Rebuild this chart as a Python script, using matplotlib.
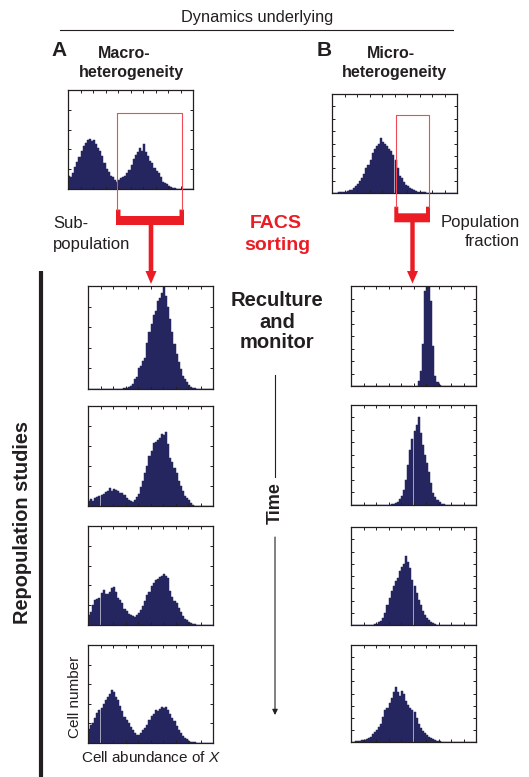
import matplotlib
matplotlib.use('Agg')
import matplotlib.pyplot as plt
from matplotlib.patches import Polygon
import numpy as np

plt.rcParams['font.family'] = ['Liberation Sans', 'DejaVu Sans']
plt.rcParams['mathtext.fontset'] = 'custom'
plt.rcParams['mathtext.it'] = 'Liberation Sans:italic'

W, H = 529, 777
NAVY = '#25255f'
RED = '#ec1c24'
PINK = '#ef4a55'
INK = '#231f20'

# histogram bins over the abundance axis (0..100), 60 bins
n_bins = 60

# bar heights as fraction of panel height
macro_start = [0.13, 0.12, 0.16, 0.22, 0.27, 0.32, 0.38, 0.43, 0.46, 0.49,
               0.51, 0.48, 0.50, 0.45, 0.41, 0.38, 0.33, 0.26, 0.20, 0.17,
               0.13, 0.12, 0.09, 0.07, 0.09, 0.11, 0.12, 0.13, 0.16, 0.19,
               0.24, 0.30, 0.34, 0.37, 0.41, 0.38, 0.455, 0.37, 0.33, 0.28,
               0.26, 0.21, 0.18, 0.16, 0.12, 0.07, 0.06, 0.05, 0.03, 0.02,
               0.015, 0.01, 0.005, 0, 0, 0, 0, 0, 0, 0]
micro_start = [0, 0.003, 0.005, 0.008, 0.01, 0.012, 0.015, 0.02, 0.03, 0.035,
               0.05, 0.07, 0.09, 0.12, 0.15, 0.19, 0.25, 0.28, 0.33, 0.40,
               0.44, 0.47, 0.50, 0.56, 0.52, 0.50, 0.47, 0.44, 0.42, 0.38,
               0.33, 0.25, 0.17, 0.15, 0.11, 0.08, 0.07, 0.05, 0.04, 0.03,
               0.02, 0.015, 0.01, 0.008, 0.006, 0.005, 0.003, 0.002, 0.002, 0.001,
               0, 0, 0, 0, 0, 0, 0, 0, 0, 0]

macro_time = [
    [0, 0, 0, 0, 0, 0, 0, 0, 0, 0,
     0, 0, 0, 0, 0, 0, 0.003, 0.005, 0.01, 0.015,
     0.03, 0.05, 0.10, 0.12, 0.20, 0.22, 0.27, 0.30, 0.45, 0.55,
     0.63, 0.72, 0.76, 0.85, 0.88, 0.93, 1.0, 0.90, 0.80, 0.68,
     0.55, 0.44, 0.34, 0.26, 0.19, 0.13, 0.10, 0.07, 0.04, 0.02,
     0.01, 0.005, 0, 0, 0, 0, 0, 0, 0, 0],
    [0.05, 0.07, 0.05, 0.08, 0.09, 0.10, 0.11, 0.12, 0.14, 0.15,
     0.18, 0.15, 0.17, 0.16, 0.15, 0.13, 0.13, 0.11, 0.08, 0.06,
     0.05, 0.04, 0.06, 0.09, 0.12, 0.19, 0.25, 0.33, 0.40, 0.50,
     0.55, 0.63, 0.64, 0.66, 0.68, 0.72, 0.71, 0.74, 0.62, 0.48,
     0.44, 0.38, 0.33, 0.25, 0.20, 0.15, 0.10, 0.08, 0.06, 0.03,
     0.01, 0.005, 0, 0, 0, 0, 0, 0, 0, 0],
    [0.10, 0.13, 0.20, 0.25, 0.26, 0.27, 0.32, 0.35, 0.31, 0.31,
     0.33, 0.37, 0.38, 0.33, 0.27, 0.25, 0.22, 0.16, 0.14, 0.11,
     0.10, 0.09, 0.08, 0.10, 0.12, 0.15, 0.19, 0.24, 0.30, 0.33,
     0.39, 0.42, 0.45, 0.46, 0.48, 0.49, 0.52, 0.50, 0.47, 0.34,
     0.28, 0.24, 0.22, 0.17, 0.13, 0.09, 0.06, 0.05, 0.03, 0.02,
     0.01, 0.01, 0.005, 0.003, 0, 0, 0, 0, 0, 0],
    [0.14, 0.18, 0.20, 0.26, 0.31, 0.34, 0.36, 0.40, 0.44, 0.47,
     0.50, 0.54, 0.52, 0.47, 0.44, 0.38, 0.33, 0.27, 0.23, 0.20,
     0.16, 0.13, 0.10, 0.08, 0.08, 0.10, 0.13, 0.15, 0.18, 0.23,
     0.28, 0.30, 0.34, 0.33, 0.35, 0.37, 0.36, 0.37, 0.34, 0.30,
     0.26, 0.22, 0.17, 0.13, 0.10, 0.07, 0.05, 0.04, 0.025, 0.015,
     0.01, 0.008, 0.005, 0.003, 0.002, 0, 0, 0, 0, 0],
]
micro_time = [
    [0, 0, 0, 0, 0, 0, 0, 0, 0, 0,
     0, 0, 0, 0, 0, 0, 0, 0, 0, 0,
     0, 0, 0, 0, 0, 0, 0, 0, 0, 0,
     0, 0.005, 0.05, 0.15, 0.42, 0.95, 1.0, 1.0, 0.85, 0.40,
     0.10, 0.04, 0.01, 0, 0, 0, 0, 0, 0, 0,
     0, 0, 0, 0, 0, 0, 0, 0, 0, 0],
    [0, 0, 0, 0, 0, 0, 0, 0, 0, 0,
     0, 0, 0, 0, 0, 0, 0, 0, 0, 0.005,
     0.01, 0.02, 0.03, 0.06, 0.09, 0.15, 0.25, 0.40, 0.55, 0.66,
     0.74, 0.80, 0.88, 0.72, 0.60, 0.50, 0.42, 0.33, 0.22, 0.12,
     0.08, 0.05, 0.03, 0.01, 0.005, 0, 0, 0, 0, 0,
     0, 0, 0, 0, 0, 0, 0, 0, 0, 0],
    [0, 0, 0, 0, 0, 0, 0, 0, 0, 0.003,
     0.005, 0.01, 0.015, 0.03, 0.04, 0.07, 0.12, 0.20, 0.28, 0.35,
     0.40, 0.45, 0.48, 0.55, 0.59, 0.62, 0.70, 0.64, 0.58, 0.46,
     0.40, 0.33, 0.26, 0.20, 0.14, 0.10, 0.07, 0.05, 0.03, 0.02,
     0.01, 0.005, 0, 0, 0, 0, 0, 0, 0, 0,
     0, 0, 0, 0, 0, 0, 0, 0, 0, 0],
    [0, 0.003, 0.008, 0.01, 0.015, 0.02, 0.025, 0.03, 0.04, 0.05,
     0.08, 0.10, 0.12, 0.15, 0.19, 0.26, 0.33, 0.35, 0.40, 0.45,
     0.52, 0.57, 0.52, 0.47, 0.53, 0.50, 0.42, 0.38, 0.35, 0.33,
     0.31, 0.25, 0.19, 0.14, 0.11, 0.09, 0.07, 0.05, 0.04, 0.03,
     0.02, 0.015, 0.01, 0.005, 0.003, 0, 0, 0, 0, 0,
     0, 0, 0, 0, 0, 0, 0, 0, 0, 0],
]

centers = (np.arange(n_bins) + 0.5) * 100 / n_bins


def px_axes(fig, left, top, right, bottom):
    return fig.add_axes([left / W, 1 - bottom / H, (right - left) / W, (bottom - top) / H])


def draw_hist(ax, counts, ystep):
    ax.bar(centers, counts, width=100 / n_bins, color=NAVY,
           edgecolor=NAVY, linewidth=0.35)
    ax.set_xlim(0, 100)
    ax.set_ylim(0, 1)
    ax.set_xticks(np.arange(10, 100, 10))
    ax.set_yticks(np.arange(ystep, 1 - 1e-6, ystep))
    ax.tick_params(direction='in', length=2.2, width=0.7, color=INK,
                   top=True, right=True, labelbottom=False, labelleft=False)
    for s in ax.spines.values():
        s.set_linewidth(0.9)
        s.set_color(INK)


fig = plt.figure(figsize=(W / 100, H / 100), dpi=100)

draw_hist(px_axes(fig, 68, 90, 193, 189), macro_start, 0.2)
draw_hist(px_axes(fig, 332, 94, 457, 193), micro_start, 0.125)

left_rows = [(286, 389), (406, 506), (526, 625), (645, 743)]
right_rows = [(286, 386), (405, 505), (527, 625), (645, 742)]
for (t, b), counts in zip(left_rows, macro_time):
    draw_hist(px_axes(fig, 88, t, 213, b), counts, 0.2)
for (t, b), counts in zip(right_rows, micro_time):
    draw_hist(px_axes(fig, 351, t, 476, b), counts, 0.125)

# overlay in pixel coordinates for labels and arrows
ov = fig.add_axes([0, 0, 1, 1], zorder=5)
ov.set_xlim(0, W)
ov.set_ylim(H, 0)
ov.axis('off')

ov.text(257, 17.5, 'Dynamics underlying', ha='center', va='center', fontsize=11.8, color=INK)
ov.plot([60, 453], [29.7, 29.7], color=INK, lw=0.8)

ov.text(59, 50, 'A', ha='center', va='center', fontsize=15, fontweight='bold', color=INK)
ov.text(124, 53, 'Macro-', ha='center', va='center', fontsize=11.5, fontweight='bold', color=INK)
ov.text(131, 72, 'heterogeneity', ha='center', va='center', fontsize=11.5, fontweight='bold', color=INK)
ov.text(324, 50, 'B', ha='center', va='center', fontsize=15, fontweight='bold', color=INK)
ov.text(391, 53, 'Micro-', ha='center', va='center', fontsize=11.5, fontweight='bold', color=INK)
ov.text(394.5, 72, 'heterogeneity', ha='center', va='center', fontsize=11.5, fontweight='bold', color=INK)

ov.text(53, 224, 'Sub-', ha='left', va='center', fontsize=12, color=INK)
ov.text(53, 244, 'population', ha='left', va='center', fontsize=12, color=INK)
ov.text(276, 224, 'FACS', ha='center', va='center', fontsize=14, fontweight='bold', color=RED)
ov.text(277, 246, 'sorting', ha='center', va='center', fontsize=14, fontweight='bold', color=RED)
ov.text(520, 223, 'Population', ha='right', va='center', fontsize=12, color=INK)
ov.text(520, 242, 'fraction', ha='right', va='center', fontsize=12, color=INK)

# sorting gates and red arrows
ov.plot([117.3, 117.3, 181.5, 181.5], [210, 112.6, 112.6, 210], color=PINK, lw=0.8)
ov.plot([395.7, 395.7, 428.7, 428.7], [207, 115, 115, 207], color=PINK, lw=0.8)
gate_a = [(116, 209.6), (120.5, 209.6), (120.5, 216), (179.5, 216), (179.5, 209.6),
          (184, 209.6), (184, 225), (153.3, 225), (153.3, 271), (156.5, 271),
          (151, 284), (145.5, 271), (148.7, 271), (148.7, 225), (116, 225)]
gate_b = [(394.3, 206.7), (398.3, 206.7), (398.3, 213.3), (426, 213.3), (426, 206.7),
          (430, 206.7), (430, 222.3), (414.7, 222.3), (414.7, 271), (418, 271),
          (412.5, 283.5), (407, 271), (410.3, 271), (410.3, 222.3), (394.3, 222.3)]
for pts in (gate_a, gate_b):
    ov.add_patch(Polygon(pts, closed=True, facecolor=RED, edgecolor='none'))

ov.text(277, 300, 'Reculture', ha='center', va='center', fontsize=14.5, fontweight='bold', color=INK)
ov.text(277, 322, 'and', ha='center', va='center', fontsize=14.5, fontweight='bold', color=INK)
ov.text(277, 343, 'monitor', ha='center', va='center', fontsize=14.5, fontweight='bold', color=INK)

ov.plot([275, 275], [375, 477], color=INK, lw=0.8)
ov.text(275, 503, 'Time', ha='center', va='center', rotation=90, fontsize=13,
        fontweight='bold', color=INK)
ov.annotate('', xy=(275, 715), xytext=(275, 537),
            arrowprops=dict(arrowstyle='-|>', lw=0.8, color=INK, mutation_scale=8,
                            shrinkA=0, shrinkB=0))

ov.plot([40.7, 40.7], [271, 777], color=INK, lw=3, solid_capstyle='butt', clip_on=False)
ov.text(23, 522, 'Repopulation studies', ha='center', va='center', rotation=90,
        fontsize=14.4, fontweight='bold', color=INK)

ov.text(75, 697, 'Cell number', ha='center', va='center', rotation=90, fontsize=11, color=INK)
ov.text(81, 757, 'Cell abundance of $\\mathit{X}$', ha='left', va='center', fontsize=11, color=INK)

fig.savefig('out.png', dpi=100)
plt.close(fig)
